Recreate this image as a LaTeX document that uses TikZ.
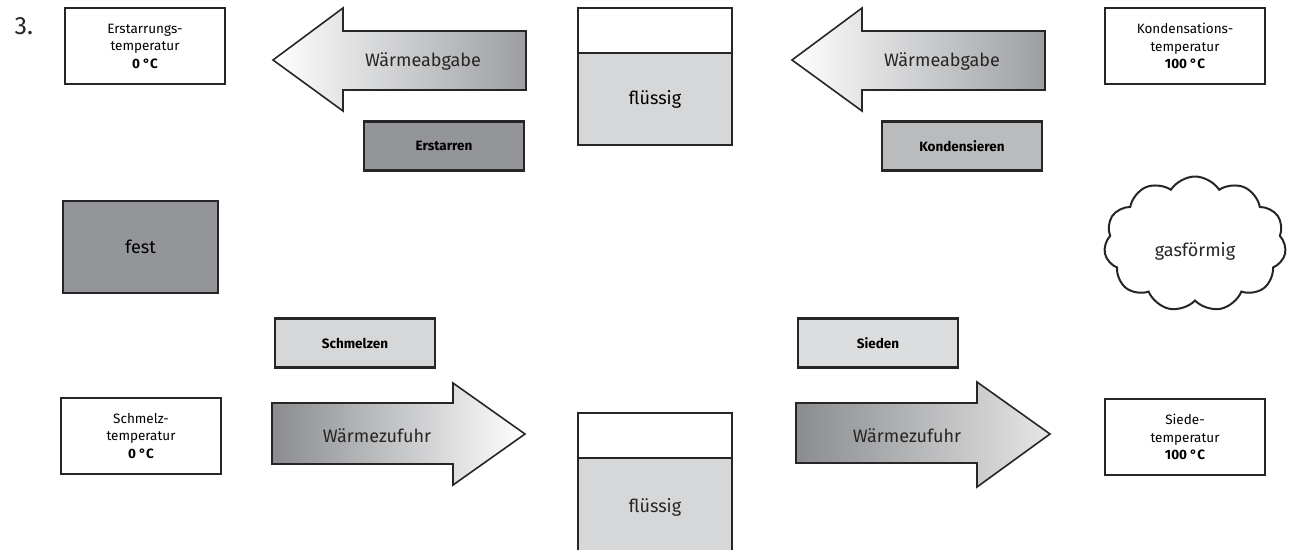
\documentclass[tikz,border=0pt]{standalone}
\usepackage{fontspec}
\setmainfont{Fira Sans}
\usetikzlibrary{shapes.symbols}
\definecolor{darkg}{HTML}{939598}
\definecolor{midg}{HTML}{B9BBBD}
\definecolor{lightg}{HTML}{D6D7D8}
\definecolor{arrg}{HTML}{9C9EA1}
\definecolor{arrdark}{HTML}{8A8C8F}
\begin{document}
\begin{tikzpicture}[x=1pt,y=-1pt,
  tempbox/.style={draw=black!85,line width=2.4pt,fill=white,minimum width=160pt,minimum height=76pt,inner sep=0pt,align=center,font=\fontsize{13.5}{17.5}\selectfont},
  procbox/.style={draw=black!85,line width=2.4pt,minimum width=160pt,minimum height=49pt,inner sep=0pt,font=\fontsize{13.5}{15}\selectfont\bfseries},
  statebox/.style={draw=black!85,line width=2.4pt,inner sep=0pt,font=\fontsize{18}{20}\selectfont},
  arrowshape/.style={draw=black!85,line width=1.6pt,line join=miter},
  arrowtext/.style={font=\fontsize{18}{20}\selectfont,text=black!85}
]
\clip (0,0) rectangle (1292,549);
\fill[white] (0,0) rectangle (1292,549);

\node[anchor=west,font=\fontsize{25}{28}\selectfont,text=black!85] (num) at (11,26) {3.};

% temperature boxes
\node[tempbox] (erst) at (145,46) {Erstarrungs-\\temperatur\\\textbf{0 °C}};
\node[tempbox] (kond) at (1185,46) {Kondensations-\\temperatur\\\textbf{100 °C}};
\node[tempbox] (schm) at (141,436) {Schmelz-\\temperatur\\\textbf{0 °C}};
\node[tempbox] (sied) at (1185,437) {Siede-\\temperatur\\\textbf{100 °C}};

% process boxes
\node[procbox,fill=darkg] (erstarren) at (444,146) {Erstarren};
\node[procbox,fill=midg] (kondensieren) at (962,146) {Kondensieren};
\node[procbox,fill=lightg] (schmelzen) at (355,343) {Schmelzen};
\node[procbox,fill=lightg!85!white] (sieden) at (878,343) {Sieden};

% states
\node[statebox,fill=darkg,minimum width=155pt,minimum height=92pt] (fest) at (140.5,247) {fest};

\node[statebox,fill=white,minimum width=154pt,minimum height=45pt] (fl1top) at (655,30.5) {};
\node[statebox,fill=lightg,minimum width=154pt,minimum height=92pt] (fl1) at (655,99) {flüssig};

\node[statebox,fill=white,minimum width=154pt,minimum height=45pt] (fl2top) at (655,435.5) {};
\node[statebox,fill=lightg,minimum width=154pt,minimum height=110pt] (fl2) at (655,513) {};
\node[font=\fontsize{18}{20}\selectfont,text=black!85] (fl2t) at (655,507) {flüssig};

\node[cloud,draw=black!85,line width=2pt,fill=white,cloud puffs=11,cloud puff arc=115,aspect=1.4,minimum width=182pt,minimum height=135pt,inner sep=0pt] (gas) at (1195,244) {};
\node[font=\fontsize{18}{20}\selectfont,text=black!85] (gast) at (1195,251) {gasförmig};

% arrows: heat release (left-pointing)
\draw[arrowshape,left color=white,right color=arrg]
  (273,60) -- (343,8) -- (343,31) -- (526,31) -- (526,90) -- (343,90) -- (343,111) -- cycle;
\node[arrowtext] (wa1) at (423,62) {Wärmeabgabe};

\draw[arrowshape,left color=white,right color=arrg]
  (792,60) -- (862,8) -- (862,31) -- (1045,31) -- (1045,90) -- (862,90) -- (862,111) -- cycle;
\node[arrowtext] (wa2) at (942,62) {Wärmeabgabe};

% arrows: heat supply (right-pointing)
\draw[arrowshape,left color=arrdark,right color=white]
  (272,403) -- (453,403) -- (453,383) -- (525,434) -- (453,485) -- (453,464) -- (272,464) -- cycle;
\node[arrowtext] (wz1) at (377,436) {Wärmezufuhr};

\draw[arrowshape,left color=arrdark,right color=white!90!black]
  (796,403) -- (977,403) -- (977,382) -- (1050,434) -- (977,487) -- (977,463) -- (796,463) -- cycle;
\node[arrowtext] (wz2) at (907,436) {Wärmezufuhr};
\end{tikzpicture}
\end{document}
